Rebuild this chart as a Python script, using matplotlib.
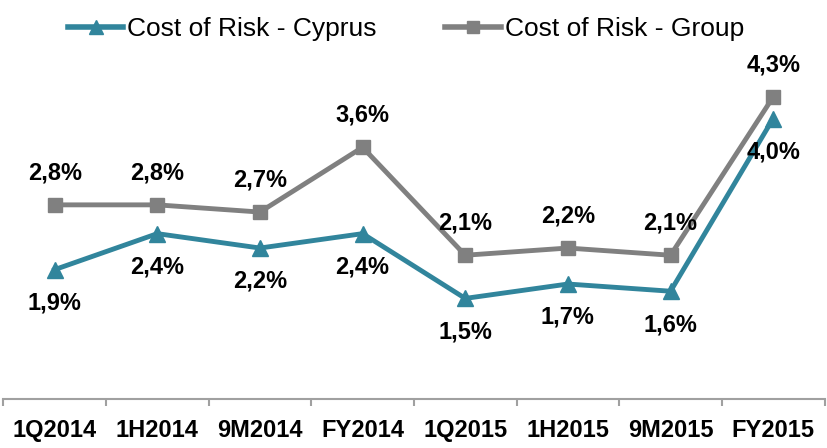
import matplotlib
matplotlib.use("Agg")
import matplotlib.pyplot as plt
from matplotlib.lines import Line2D

# data
periods = ["1Q2014", "1H2014", "9M2014", "FY2014", "1Q2015", "1H2015", "9M2015", "FY2015"]
cor_cyprus = [1.9, 2.4, 2.2, 2.4, 1.5, 1.7, 1.6, 4.0]
cor_group = [2.8, 2.8, 2.7, 3.6, 2.1, 2.2, 2.1, 4.3]

teal = "#31859C"
grey = "#808080"
plt.rcParams["font.family"] = ["Liberation Sans", "DejaVu Sans"]

fig = plt.figure(figsize=(8.27, 4.48), dpi=100)
ax = fig.add_axes([0.004, 0.109, 0.993, 0.755])

x = list(range(len(periods)))
ax.plot(x, cor_group, color=grey, lw=3.5, marker="s", ms=10, zorder=3)
ax.plot(x, cor_cyprus, color=teal, lw=3.5, marker="^", ms=11, zorder=3)

def fmt(v):
    return f"{v:.1f}%".replace(".", ",")

for i, v in enumerate(cor_group):
    ax.annotate(fmt(v), (i, v), xytext=(0, 23), textcoords="offset points",
                ha="center", va="center", fontsize=17, fontweight="bold")
for i, v in enumerate(cor_cyprus):
    ax.annotate(fmt(v), (i, v), xytext=(0, -24), textcoords="offset points",
                ha="center", va="center", fontsize=17, fontweight="bold")

ax.set_xlim(-0.5, len(periods) - 0.5)
ax.set_ylim(0.1, 4.8)
ax.set_yticks([])
for s in ["left", "right", "top"]:
    ax.spines[s].set_visible(False)
ax.spines["bottom"].set_color("#A0A0A0")
ax.spines["bottom"].set_linewidth(1.5)

ax.set_xticks(x)
ax.set_xticklabels(periods, fontsize=17, fontweight="bold")
ax.tick_params(axis="x", which="major", length=0, pad=14)
ax.set_xticks([i - 0.5 for i in range(len(periods) + 1)], minor=True)
ax.tick_params(axis="x", which="minor", length=5, width=1.5, color="#A0A0A0")

handles = [
    Line2D([], [], color=teal, lw=4, marker="^", ms=10),
    Line2D([], [], color=grey, lw=4, marker="s", ms=9),
]
fig.legend(handles, ["Cost of Risk - Cyprus", "Cost of Risk - Group"],
           loc="center", bbox_to_anchor=(0.491, 0.935), ncol=2, frameon=False,
           prop={"size": 19}, handlelength=2.1,
           handletextpad=0.15, columnspacing=2.6)

fig.savefig("out.png", dpi=100)
